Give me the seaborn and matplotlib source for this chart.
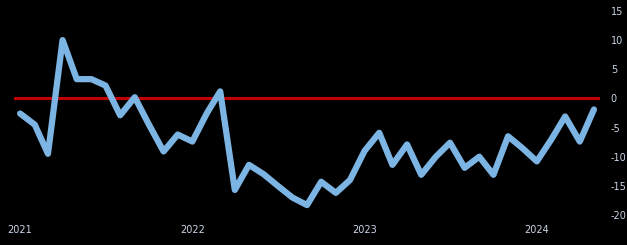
import matplotlib
matplotlib.use("Agg")
import matplotlib.pyplot as plt
import seaborn as sns
import pandas as pd

start_month = "2021-01-01"
values = [-2.6, -4.5, -9.5, 10.0, 3.3, 3.3, 2.2, -2.9, 0.2, -4.5,
          -9.1, -6.2, -7.4, -2.5, 1.2, -15.7, -11.4, -13.0, -15.0, -17.0,
          -18.3, -14.3, -16.2, -14.0, -9.0, -5.9, -11.4, -7.9, -13.1, -10.0,
          -7.6, -11.9, -10.0, -13.1, -6.5, -8.5, -10.8, -7.0, -3.1, -7.4, -1.9]
year_ticks = ["2021", "2022", "2023", "2024"]
y_ticks = [15, 10, 5, 0, -5, -10, -15, -20]

dates = pd.date_range(start_month, periods=len(values), freq="MS")
df = pd.DataFrame({"date": dates, "value": values})

sns.set_style("dark")
fig = plt.figure(figsize=(6.27, 2.45), dpi=100, facecolor="black")
ax = fig.add_axes([0.0223, 0.1224, 0.934, 0.833])
ax.set_facecolor("black")

ax.axhline(0, color="#c00000", lw=2.2, zorder=1)
sns.lineplot(data=df, x="date", y="value", ax=ax, color="#7cb5e4", lw=4.5,
             solid_joinstyle="round", solid_capstyle="round", zorder=2)

ax.set_ylim(-20, 15)
ax.set_xlim(dates[0] - pd.Timedelta(days=13), dates[-1] + pd.Timedelta(days=12))
ax.yaxis.tick_right()
ax.set_yticks(y_ticks)
ax.set_yticklabels([str(v) for v in y_ticks])
ax.set_xticks([pd.Timestamp(f"{y}-01-01") for y in year_ticks])
ax.set_xticklabels(year_ticks)
ax.tick_params(axis="both", length=0, labelsize=7, colors="#c9d5e6")
ax.tick_params(axis="y", pad=8)
ax.tick_params(axis="x", pad=7)
ax.set_xlabel("")
ax.set_ylabel("")
ax.grid(False)
for s in ax.spines.values():
    s.set_visible(False)

fig.savefig("out.png", dpi=100, facecolor="black")
